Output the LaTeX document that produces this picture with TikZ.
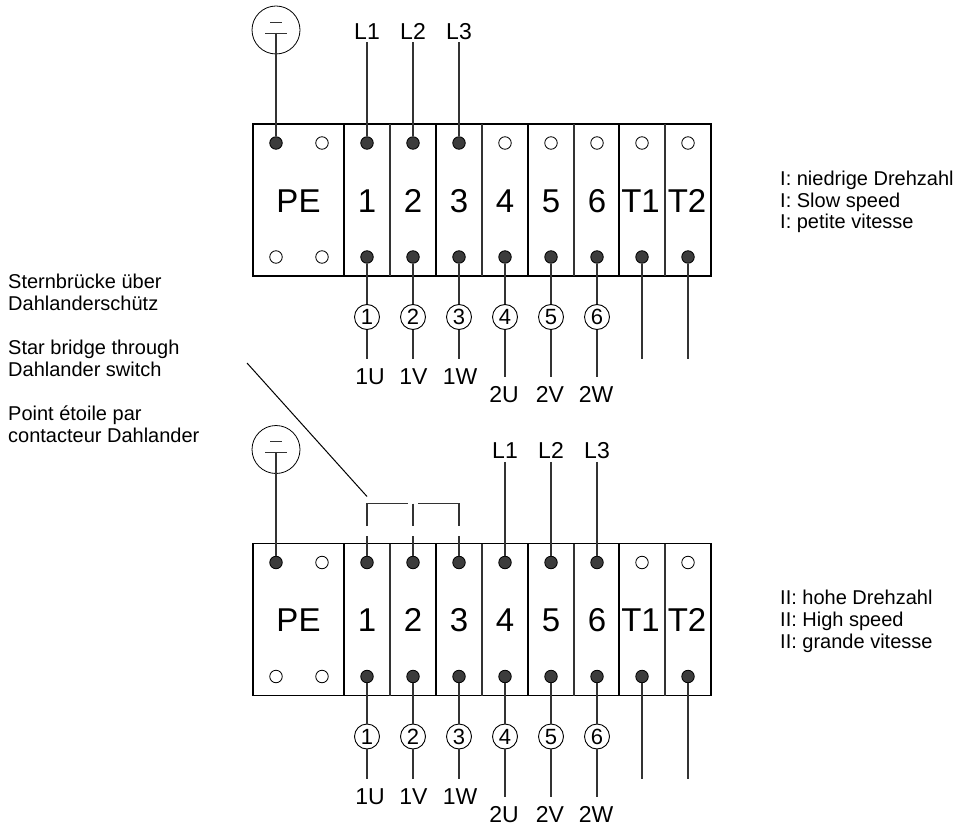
\documentclass[tikz,border=0pt]{standalone}
\usepackage{fontspec}
\setmainfont{Liberation Sans}
\definecolor{pindark}{HTML}{3C3C3C}
\definecolor{wiregray}{HTML}{333333}
\tikzset{
 wire/.style={draw=wiregray,line width=1.1pt},
 divthick/.style={draw=black,line width=1.6pt},
 divthin/.style={draw=wiregray,line width=1.1pt},
 pinfull/.style={circle,draw=black,fill=pindark,line width=.8pt,minimum size=12.5pt,inner sep=0pt},
 pinopen/.style={circle,draw=black,fill=white,line width=.8pt,minimum size=12.5pt,inner sep=0pt},
 numcirc/.style={circle,draw=black,fill=white,line width=.9pt,minimum size=25pt,inner sep=0pt,text height=15.4pt,text depth=0pt,font=\fontsize{22}{22}\selectfont},
 earthcirc/.style={circle,draw=black,line width=.8pt,minimum size=48pt,inner sep=0pt},
 termlabel/.style={inner sep=0pt,text height=23.8pt,text depth=0pt,font=\fontsize{33}{33}\selectfont},
 wirelabel/.style={inner sep=0pt,text height=16.1pt,text depth=0pt,font=\fontsize{23}{23}\selectfont},
 notelabel/.style={anchor=west,inner sep=0pt,text height=14.4pt,text depth=4pt,font=\fontsize{20}{20}\selectfont}
}
\begin{document}
\begin{tikzpicture}[x=1pt,y=-1pt]
\useasboundingbox (0,0) rectangle (958,826);
% both terminal blocks
\foreach \blk/\yo in {a/0,b/419.5}{
\begin{scope}[yshift=-\yo pt]
\draw[divthick] (253,124) rectangle (711,276);
\foreach \xx in {344,436,528,619} \draw[divthick] (\xx,124)--(\xx,276);
\foreach \xx in {390,482,574,665} \draw[divthin] (\xx,124)--(\xx,276);
\node[termlabel] (\blk PE) at (298.5,200.5) {PE};
\foreach \nm/\xx/\tl/\tx in {1/367/367/1,2/413/413/2,3/459/459/3,4/505/505/4,5/551/551/5,6/597/597/6,7/642/640.5/T1,8/688/687/T2}{
  \node[termlabel] (\blk num\nm) at (\tl,200.5) {\tx};
  \node[pinfull] (\blk low\nm) at (\xx,257) {};
}
\node[pinfull] (\blk pe) at (276,143) {};
\node[pinopen] (\blk peb) at (322,143) {};
\node[pinopen] (\blk pec) at (276,257) {};
\node[pinopen] (\blk ped) at (322,257) {};
% earth symbol
\node[earthcirc] (\blk earth) at (276,30) {};
\draw[wire,line width=.9pt] (265,33)--(287,33) (270,22)--(282,22);
\draw[wire] (276,33)--(\blk pe);
% motor windings
\foreach \nm/\xx/\lx/\yy/\ww in {1/367/370/359/1U,2/413/413.5/359/1V,3/459/460/359/1W,4/505/504/377/2U,5/551/550/377/2V,6/597/596/377/2W}{
  \node[numcirc] (\blk wind\nm) at (\xx,317) {\nm};
  \coordinate (\blk end\nm) at (\xx,\yy);
  \node[wirelabel] (\blk lab\nm) at (\lx,\yy+17.5) {\ww};
  \draw[wire] (\blk low\nm)--(\blk wind\nm);
  \draw[wire] (\blk wind\nm)--(\blk end\nm);
}
\foreach \nm/\xx in {7/642,8/688}{
  \coordinate (\blk end\nm) at (\xx,359);
  \draw[wire] (\blk low\nm)--(\blk end\nm);
}
\end{scope}
}
% upper block: L1 L2 L3 on 1 2 3
\foreach \nm/\xx in {1/367,2/413,3/459}{
  \node[pinfull] (atop\nm) at (\xx,143) {};
  \node[wirelabel] (aline\nm) at (\xx,31) {L\nm};
  \draw[wire,shorten <=3pt] (aline\nm.south)--(atop\nm);
}
\foreach \nm/\xx in {4/505,5/551,6/597,7/642,8/688}
  \node[pinopen] (atop\nm) at (\xx,143) {};
% lower block: L1 L2 L3 on 4 5 6
\foreach \nm/\ll/\xx in {4/1/505,5/2/551,6/3/597}{
  \node[pinfull] (btop\nm) at (\xx,562.5) {};
  \node[wirelabel] (bline\nm) at (\xx,450.5) {L\ll};
  \draw[wire,shorten <=3pt] (bline\nm.south)--(btop\nm);
}
\foreach \nm/\xx in {1/367,2/413,3/459}
  \node[pinfull] (btop\nm) at (\xx,562.5) {};
\foreach \nm/\xx in {7/642,8/688}
  \node[pinopen] (btop\nm) at (\xx,562.5) {};
% star bridge
\coordinate (brUa) at (367,503.5);
\coordinate (brUb) at (367,526);
\coordinate (brLa) at (367,536);
\coordinate (brVa) at (413,503.5);
\coordinate (brVb) at (413,526);
\coordinate (brVc) at (413,536);
\coordinate (brWa) at (459,503.5);
\coordinate (brWb) at (459,526);
\coordinate (brWc) at (459,536);
\coordinate (brGl) at (408,503.5);
\coordinate (brGr) at (418,503.5);
\draw[wire] (brUb)--(brUa)--(brGl);
\draw[wire] (brVa)--(brVb);
\draw[wire] (brGr)--(brWa)--(brWb);
\draw[wire] (brLa)--(btop1);
\draw[wire] (brVc)--(btop2);
\draw[wire] (brWc)--(btop3);
\coordinate (brFree) at (247,363);
\coordinate (brTip) at (367,496.5);
\draw[draw=black,line width=1pt] (brFree)--(brTip);
% notes
\node[notelabel] (noteA) at (8,282.8) {Sternbrücke über};
\node[notelabel] (noteB) at (8,304.8) {Dahlanderschütz};
\node[notelabel] (noteC) at (8,349) {Star bridge through};
\node[notelabel] (noteD) at (8,371) {Dahlander switch};
\node[notelabel] (noteE) at (8,415) {Point étoile par};
\node[notelabel] (noteF) at (8,437) {contacteur Dahlander};
\node[notelabel] (slowA) at (780,180) {I: niedrige Drehzahl};
\node[notelabel] (slowB) at (780,202) {I: Slow speed};
\node[notelabel] (slowC) at (780,223) {I: petite vitesse};
\node[notelabel] (fastA) at (780,599) {II: hohe Drehzahl};
\node[notelabel] (fastB) at (780,621) {II: High speed};
\node[notelabel] (fastC) at (780,643) {II: grande vitesse};
\end{tikzpicture}
\end{document}
